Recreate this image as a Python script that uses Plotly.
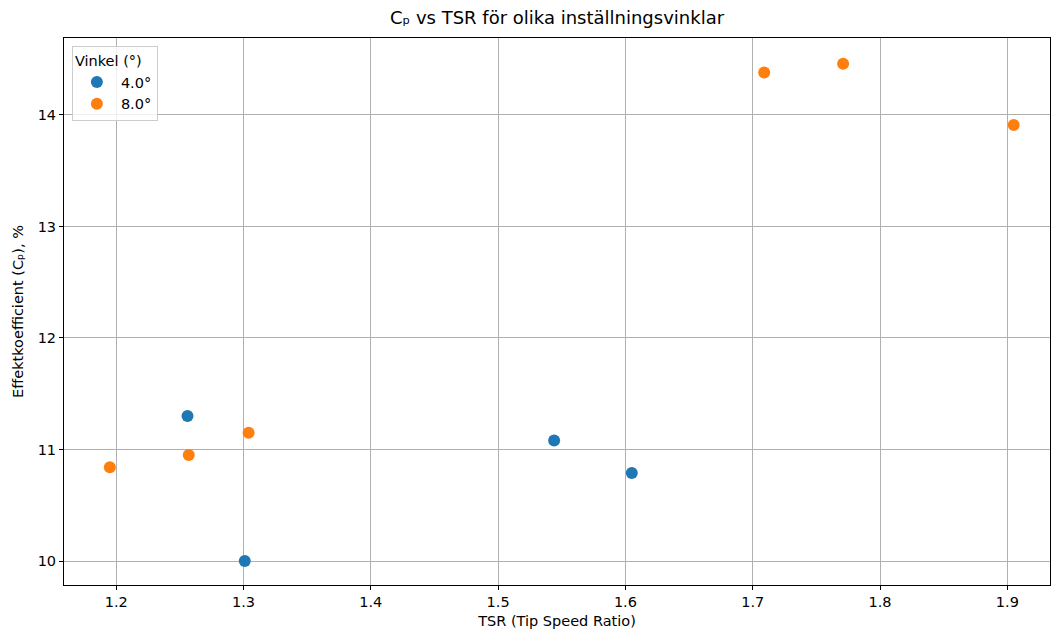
import plotly.graph_objects as go

# Measured points per blade pitch angle
tsr_4deg = [1.256, 1.301, 1.544, 1.605]
cp_4deg = [11.30, 10.00, 11.08, 10.79]

tsr_8deg = [1.195, 1.257, 1.304, 1.709, 1.771, 1.905]
cp_8deg = [10.84, 10.95, 11.15, 14.38, 14.46, 13.91]

x_ticks = [1.2, 1.3, 1.4, 1.5, 1.6, 1.7, 1.8, 1.9]
y_ticks = [10, 11, 12, 13, 14]

series = [
    ("4.0°", tsr_4deg, cp_4deg, "#1f77b4"),
    ("8.0°", tsr_8deg, cp_8deg, "#ff7f0e"),
]

FONT = "DejaVu Sans"
FS = 14.5

fig = go.Figure()
for name, xs, ys, color in series:
    fig.add_trace(go.Scatter(
        x=xs, y=ys, mode="markers", name=name,
        marker=dict(size=12, color=color, line=dict(width=0)),
    ))

axis_common = dict(
    showgrid=True, gridcolor="#b0b0b0", gridwidth=0.8,
    showline=True, linecolor="black", linewidth=1, mirror=True,
    ticks="outside", ticklen=4, tickcolor="black", tickwidth=1,
    zeroline=False,
    tickfont=dict(family=FONT, size=FS, color="black"),
)

fig.update_layout(
    width=1051, height=630,
    margin=dict(l=64, r=1, t=38, b=45),
    paper_bgcolor="white", plot_bgcolor="white",
    font=dict(family=FONT, size=FS, color="black"),
    title=dict(
        text="Cₚ vs TSR för olika inställningsvinklar",
        x=0.5, xref="paper", xanchor="center",
        y=1, yref="container", yanchor="top", pad=dict(t=11),
        font=dict(family=FONT, size=18, color="black"),
    ),
    xaxis=dict(
        range=[1.159, 1.9335], tickvals=x_ticks,
        ticktext=[f"{v:.1f}" for v in x_ticks],
        title=dict(text="TSR (Tip Speed Ratio)", standoff=6,
                   font=dict(family=FONT, size=FS)),
        **axis_common,
    ),
    yaxis=dict(
        range=[9.785, 14.69], tickvals=y_ticks,
        ticktext=[str(v) for v in y_ticks],
        title=dict(text="Effektkoefficient (Cₚ), %", standoff=10,
                   font=dict(family=FONT, size=FS)),
        **axis_common,
    ),
    legend=dict(
        title=dict(text="Vinkel (°)", font=dict(family=FONT, size=FS)),
        x=0.008, y=0.985, xanchor="left", yanchor="top",
        bgcolor="rgba(255,255,255,0.8)", bordercolor="#cccccc", borderwidth=1,
        font=dict(family=FONT, size=FS),
        itemwidth=38,
    ),
)

fig.write_html("out.html")
